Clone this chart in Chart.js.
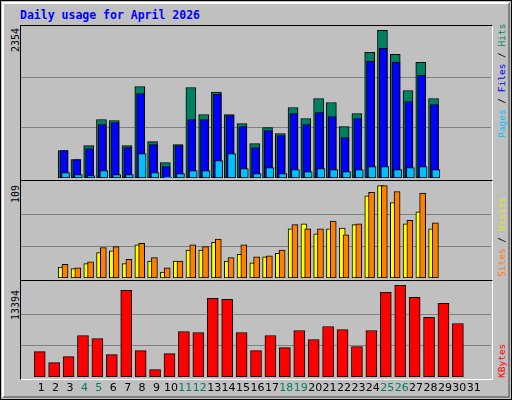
<!DOCTYPE html>
<html><head><meta charset="utf-8">
<script src="https://cdn.jsdelivr.net/npm/chart.js@4"></script>
<style>
body{margin:0;width:512px;height:400px;overflow:hidden;background:#fff;font-family:"DejaVu Sans Mono",monospace}
#wrap{position:absolute;left:0;top:0;width:510px;height:398px;border:1px solid #000;background:#c0c0c0}
#bev{position:absolute;left:1px;top:1px;width:504px;height:392px;border-left:2px solid #fff;border-top:2px solid #fff;border-right:2px solid #808080;border-bottom:2px solid #808080}
.panel{position:absolute;left:19px;width:471px;border-top:1px solid #000;border-left:1px solid #000;border-right:1px solid #fff;border-bottom:1px solid #fff}
canvas{position:absolute}
.t{position:absolute;white-space:nowrap}
.r{position:absolute;transform-origin:0 0;transform:rotate(-90deg);white-space:nowrap;font-size:9px}
</style></head><body>
<div id="wrap"><div id="bev"></div>
<div class="t" style="left:19px;top:7px;color:#0000ff;font-weight:bold;font-size:11.5px">Daily usage for April 2026</div>
<div class="panel" style="top:24px;height:154px"></div>
<div class="panel" style="top:179px;height:99px"></div>
<div class="panel" style="top:279px;height:98px"></div>
<div class="r" style="left:9px;top:51px;color:#000;font-size:10px">2354</div>
<div class="r" style="left:9px;top:202px;color:#000;font-size:10px">109</div>
<div class="r" style="left:9px;top:319px;color:#000;font-size:10px">13394</div>
<div class="r" style="left:495px;top:137px;font-size:9.5px"><span style="color:#00c0ff">Pages</span> / <span style="color:#0000ff">Files</span> / <span style="color:#008060">Hits</span></div>
<div class="r" style="left:495px;top:276px;font-size:9.5px"><span style="color:#ff8000">Sites</span> / <span style="color:#e8e800">Visits</span></div>
<div class="r" style="left:495px;top:377px;color:#ff0000;font-size:9.5px">KBytes</div>
<canvas id="c1" style="left:20px;top:25px;width:470px;height:152px"></canvas>
<canvas id="c2" style="left:20px;top:181px;width:470px;height:96px"></canvas>
<canvas id="c3" style="left:20px;top:281px;width:470px;height:120px"></canvas>
</div>
<script>
const days=[1,2,3,4,5,6,7,8,9,10,11,12,13,14,15,16,17,18,19,20,21,22,23,24,25,26,27,28,29,30,31];
const weekend=[4,5,11,12,18,19,25,26];
const hits=[437,293,517,932,916,517,1459,581,245,533,1443,1012,1369,1012,868,549,804,708,1124,948,1268,1204,820,1028,2003,2354,1971,1395,1843,1268,0];
const files=[437,293,469,852,884,485,1347,533,181,517,932,932,1332,996,820,485,756,676,1028,852,1044,980,644,948,1859,2066,1843,1220,1635,1172,0];
const pages=[85,53,37,117,53,53,389,85,11,69,117,117,277,389,149,69,165,69,133,101,149,133,101,133,181,181,133,165,181,133,0];
const visits=[13,11,17,30,32,17,39,20,7,20,33,33,42,20,28,18,25,29,58,64,52,58,59,63,97,109,89,64,78,58,0];
const sites=[16,12,19,36,37,22,41,24,12,20,39,37,46,24,39,25,26,33,63,58,58,67,51,64,101,109,102,68,100,65,0];
const kbytes=[3715,2102,2982,6061,5621,3275,12660,3862,1075,3422,6648,6501,11487,11340,6501,3862,6061,4301,6794,5475,7381,6941,4448,6794,12367,13394,11633,8701,10754,7821,0];
const XMIN=0.128,XMAX=31.67;
function ds(vals,off,w,color,order){return{data:vals.map((v,i)=>({x:days[i]+off,y:v})),backgroundColor:color,borderColor:'#000',borderWidth:1,borderSkipped:false,barThickness:w,grouped:false,order:order};}
const gridPlugin={id:'thirds',beforeDatasetsDraw(ch){const y=ch.scales.y,a=ch.chartArea,g=ch.ctx;g.save();g.strokeStyle='#808080';g.lineWidth=1;
 [1,2].forEach(k=>{const py=Math.round(y.getPixelForValue(y.max*k/3))+0.5;g.beginPath();g.moveTo(a.left,py);g.lineTo(a.right,py);g.stroke();});g.restore();}};
function xax(show){const o={type:'linear',min:XMIN,max:XMAX,display:show};
 if(show)Object.assign(o,{grid:{display:false,drawTicks:false},border:{display:false},
 afterBuildTicks:a=>{a.ticks=days.map(d=>({value:d}));},afterFit:a=>{a.height=25;},
 ticks:{padding:5,autoSkip:false,maxRotation:0,font:{family:'DejaVu Sans',size:11},callback:v=>String(v),
 color:c=>weekend.includes(c.tick.value)?'#008060':'#000'}});return o;}
function mk(id,sets,max,showX){new Chart(document.getElementById(id),{type:'bar',data:{datasets:sets},plugins:[gridPlugin],
 options:{responsive:false,animation:false,devicePixelRatio:1,layout:{padding:0},plugins:{legend:{display:false},tooltip:{enabled:false}},
 scales:{x:xax(showX),y:{min:0,max:max,display:false}}}});}
function size(id,w,h){const c=document.getElementById(id);c.width=w;c.height=h;}
size('c1',470,152);size('c2',470,96);size('c3',470,120);
mk('c1',[ds(hits,-0.2,10,'#008060',3),ds(files,-0.134,8,'#0000ff',2),ds(pages,-0.013,8,'#00c0ff',1)],2423,false);
mk('c2',[ds(visits,-0.35,6,'#ffff00',2),ds(sites,-0.054,6,'#ff8000',1)],113.2,false);
mk('c3',[ds(kbytes,-0.1,11,'#ff0000',1)],13878,true);
</script></body></html>
